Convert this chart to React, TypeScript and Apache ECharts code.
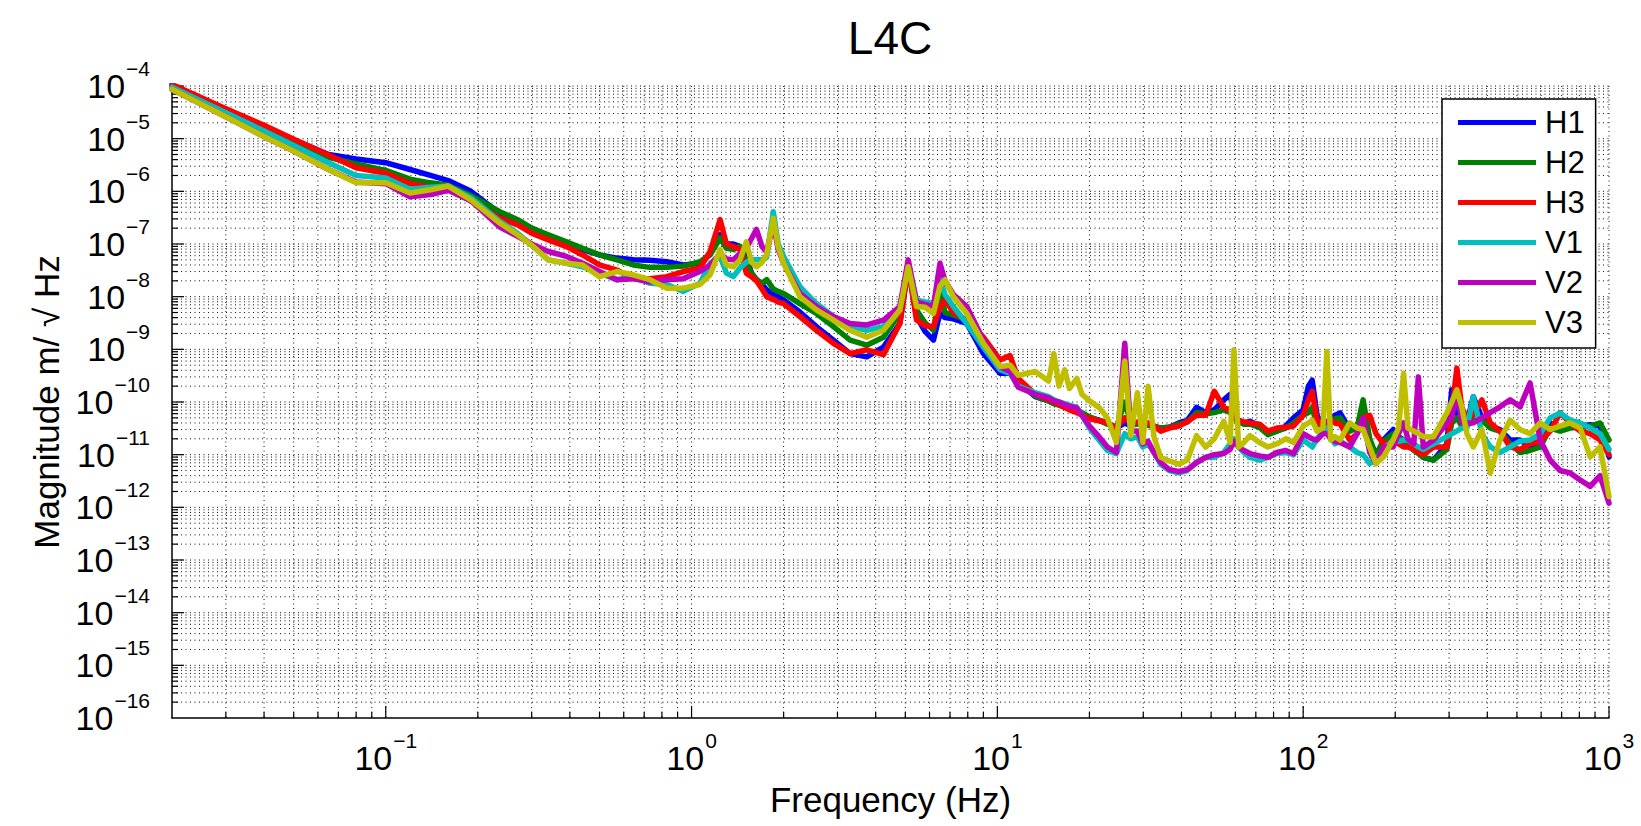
import React, { useEffect, useRef } from 'react';
import * as echarts from 'echarts';

const FONT = '"Liberation Sans", Arial, Helvetica, sans-serif';

const SERIES_NAMES = ['H1', 'H2', 'H3', 'V1', 'V2', 'V3'];
const SERIES_COLORS = ['#0000FF', '#008000', '#FF0000', '#00BFBF', '#BF00BF', '#BFBF00'];

const X_MIN = 0.02;
const X_MAX = 1000;
const Y_MIN = 1e-16;
const Y_MAX = 1e-4;

// Frequency grid (Hz) shared by all series
const FREQ = [
  0.02, 0.03, 0.04, 0.05, 0.065, 0.08, 0.1, 0.12, 0.14, 0.16, 0.19, 0.236,
  0.27, 0.3, 0.34, 0.39, 0.44, 0.5, 0.57, 0.645, 0.73, 0.83, 0.94, 1.065,
  1.15, 1.24, 1.3, 1.37, 1.44, 1.51, 1.57, 1.63, 1.7, 1.76, 1.85, 1.92, 2.0,
  2.26, 2.56, 2.91, 3.3, 3.74, 4.24, 4.8, 5.11, 5.44, 5.8, 6.18, 6.49, 6.74, 7.18, 7.94, 9.0, 10.2,
  11.0, 11.7, 13.3, 14.7, 15.3, 15.9, 16.6, 17.2, 18.2, 18.9, 20.0, 21.5, 22.9, 24.5, 26.1, 27.3, 28.7, 29.9, 31.1, 32.5, 34.2, 36.5, 39.2, 41.8, 44.8, 48, 51.2, 55, 57.7, 59.4, 61.5, 64, 67, 72, 76.7, 82, 87.7, 93,
  100, 104, 107, 111, 116, 119.5, 123, 127, 132, 142, 150, 157, 165, 173, 183, 197, 205, 213, 220, 230, 238, 247, 267, 295, 306, 318, 330, 343, 360, 384, 409, 440, 475, 512, 552, 596, 642, 692, 746, 805, 868, 935, 1000,
];

const H1 = [
  1.05e-4, 3.6e-5, 1.7e-5, 9.5e-6, 5.0e-6, 4.1e-6, 3.5e-6, 2.6e-6, 2.0e-6, 1.6e-6, 1.0e-6, 3.8e-7,
  2.7e-7, 2.0e-7, 1.4e-7, 9.5e-8, 7.8e-8, 6.2e-8, 5.4e-8, 5.0e-8, 4.9e-8, 4.6e-8, 4.0e-8, 4.3e-8,
  6.6e-8, 1.5e-7, 1.0e-7, 1.0e-7, 8.9e-8, 5.8e-8, 2.8e-8, 2.1e-8, 1.7e-8, 1.35e-8, 1.1e-8, 1.0e-8, 8.7e-9,
  5.1e-9, 2.7e-9, 1.5e-9, 8.3e-10, 7.2e-10, 1.1e-9, 3.1e-9, 3.7e-8, 4.2e-9, 2.2e-9, 1.5e-9, 4.8e-9, 4.0e-9, 3.8e-9, 3.1e-9, 8.3e-10, 3.5e-10,
  3.5e-10, 2.4e-10, 1.26e-10, 1.05e-10, 9.3e-11, 8.9e-11, 7.9e-11, 7.6e-11, 6.8e-11, 6.0e-11, 5.0e-11, 4.5e-11, 4.0e-11, 3.2e-11, 4.0e-11, 3.5e-11, 4.0e-11, 4.2e-11, 3.8e-11, 3.5e-11, 3.2e-11, 3.3e-11, 4.0e-11, 4.5e-11, 7.9e-11, 6.3e-11, 7.1e-11, 1.1e-10, 1.4e-10, 5.6e-11, 4.5e-11, 4.0e-11, 4.3e-11, 3.5e-11, 2.5e-11, 2.8e-11, 3.5e-11, 5.0e-11,
  7.1e-11, 2.0e-10, 2.6e-10, 5.6e-11, 3.5e-11, 4.0e-11, 5.0e-11, 5.6e-11, 6.2e-11, 3.0e-11, 3.5e-11, 7.1e-11, 1.8e-11, 9.1e-12, 1.9e-11, 3.0e-11, 2.2e-11, 1.9e-11, 1.6e-11, 1.26e-11, 1.1e-11, 8.9e-12, 7.9e-12, 1.6e-11, 1.7e-10, 6.3e-11, 4.0e-11, 4.0e-11, 1.26e-10, 5.0e-11, 3.5e-11, 3.0e-11, 1.9e-11, 1.9e-11, 1.4e-11, 1.4e-11, 4.0e-11, 3.0e-11, 3.5e-11, 3.5e-11, 3.7e-11, 3.5e-11, 9.1e-12,
];

const H2 = [
  1.0e-4, 3.4e-5, 1.6e-5, 8.7e-6, 4.4e-6, 3.3e-6, 2.5e-6, 1.7e-6, 1.45e-6, 1.3e-6, 8.3e-7, 4.1e-7,
  2.9e-7, 2.0e-7, 1.5e-7, 1.1e-7, 8.3e-8, 6.2e-8, 5.0e-8, 4.0e-8, 3.6e-8, 3.6e-8, 3.8e-8, 4.6e-8,
  6.2e-8, 1.3e-7, 8.3e-8, 7.9e-8, 8.9e-8, 4.3e-8, 2.8e-8, 2.1e-8, 1.8e-8, 2.1e-8, 1.4e-8, 1.26e-8, 1.15e-8,
  7.4e-9, 4.8e-9, 2.7e-9, 1.5e-9, 1.2e-9, 1.7e-9, 4.8e-9, 4.3e-8, 5.6e-9, 3.2e-9, 2.3e-9, 1.35e-8, 5.0e-9, 4.5e-9, 3.6e-9, 1.1e-9, 4.7e-10,
  4.0e-10, 2.5e-10, 1.3e-10, 1.05e-10, 9.3e-11, 8.7e-11, 8.3e-11, 7.6e-11, 7.1e-11, 6.3e-11, 5.2e-11, 4.5e-11, 3.8e-11, 3.3e-11, 1.0e-10, 4.0e-11, 3.8e-11, 4.0e-11, 3.6e-11, 3.4e-11, 3.2e-11, 3.3e-11, 3.8e-11, 4.2e-11, 6.3e-11, 6.0e-11, 6.3e-11, 7.1e-11, 6.3e-11, 5.0e-11, 4.2e-11, 3.8e-11, 3.8e-11, 3.3e-11, 2.4e-11, 2.8e-11, 3.2e-11, 4.0e-11,
  5.6e-11, 6.3e-11, 7.9e-11, 3.5e-11, 3.2e-11, 3.5e-11, 4.5e-11, 4.8e-11, 5.0e-11, 2.8e-11, 3.2e-11, 1.1e-10, 2.0e-11, 1.0e-11, 1.8e-11, 2.5e-11, 2.1e-11, 1.9e-11, 1.6e-11, 1.2e-11, 1.05e-11, 8.9e-12, 7.9e-12, 1.26e-11, 4.0e-11, 5.0e-11, 3.5e-11, 3.5e-11, 4.5e-11, 4.5e-11, 3.2e-11, 2.8e-11, 1.6e-11, 1.1e-11, 1.2e-11, 1.4e-11, 3.2e-11, 2.8e-11, 3.2e-11, 3.3e-11, 3.5e-11, 4.0e-11, 1.9e-11,
];

const H3 = [
  1.07e-4, 3.7e-5, 1.8e-5, 9.8e-6, 4.9e-6, 2.8e-6, 2.2e-6, 1.4e-6, 1.2e-6, 1.1e-6, 6.6e-7, 3.1e-7,
  2.3e-7, 1.6e-7, 1.2e-7, 8.9e-8, 6.2e-8, 4.0e-8, 3.2e-8, 2.2e-8, 2.2e-8, 2.4e-8, 3.0e-8, 3.5e-8,
  7.2e-8, 2.9e-7, 1.0e-7, 8.9e-8, 7.9e-8, 2.8e-8, 2.4e-8, 2.0e-8, 1.4e-8, 1.0e-8, 8.9e-9, 7.9e-9, 7.4e-9,
  4.2e-9, 2.3e-9, 1.3e-9, 8.3e-10, 9.8e-10, 7.9e-10, 3.1e-9, 3.7e-8, 3.6e-9, 2.8e-9, 2.7e-9, 6.3e-9, 8.7e-9, 5.0e-9, 3.6e-9, 1.7e-9, 6.3e-10,
  7.6e-10, 2.8e-10, 1.4e-10, 1.1e-10, 1.0e-10, 8.9e-11, 7.9e-11, 7.1e-11, 6.3e-11, 5.6e-11, 4.8e-11, 4.4e-11, 4.0e-11, 3.2e-11, 5.0e-11, 4.0e-11, 4.2e-11, 4.4e-11, 4.0e-11, 3.5e-11, 2.8e-11, 3.2e-11, 3.5e-11, 4.2e-11, 5.6e-11, 5.6e-11, 1.6e-10, 7.9e-11, 7.1e-11, 5.2e-11, 4.5e-11, 4.2e-11, 4.0e-11, 3.8e-11, 2.8e-11, 3.2e-11, 3.3e-11, 3.5e-11,
  5.6e-11, 1.1e-10, 1.6e-10, 4.5e-11, 3.5e-11, 4.0e-11, 4.5e-11, 4.0e-11, 3.8e-11, 1.9e-11, 2.5e-11, 5.0e-11, 5.6e-11, 2.5e-11, 1.6e-11, 1.8e-11, 1.6e-11, 1.4e-11, 1.4e-11, 1.26e-11, 1.1e-11, 1.0e-11, 1.4e-11, 1.4e-11, 6.3e-11, 4.4e-10, 7.9e-11, 5.0e-11, 5.6e-11, 1.1e-10, 4.0e-11, 2.8e-11, 1.4e-11, 1.26e-11, 1.6e-11, 1.8e-11, 2.8e-11, 6.2e-11, 4.0e-11, 2.8e-11, 2.5e-11, 1.9e-11, 1.0e-11,
];

const V1 = [
  9.5e-5, 3.1e-5, 1.4e-5, 7.4e-6, 3.5e-6, 2.0e-6, 1.8e-6, 1.1e-6, 1.2e-6, 1.26e-6, 7.6e-7, 2.7e-7,
  1.6e-7, 9.5e-8, 5.0e-8, 4.3e-8, 3.7e-8, 2.8e-8, 2.1e-8, 2.4e-8, 1.8e-8, 1.7e-8, 1.26e-8, 1.8e-8,
  4.3e-8, 5.8e-8, 2.8e-8, 2.4e-8, 3.5e-8, 4.5e-8, 5.0e-8, 5.0e-8, 5.0e-8, 5.6e-8, 4.1e-7, 1.0e-7, 5.8e-8,
  1.55e-8, 7.4e-9, 4.2e-9, 2.7e-9, 2.3e-9, 2.7e-9, 6.5e-9, 4.3e-8, 8.7e-9, 7.9e-9, 7.4e-9, 2.1e-8, 1.1e-8, 6.5e-9, 3.1e-9, 1.1e-9, 4.1e-10,
  3.5e-10, 2.0e-10, 1.5e-10, 1.26e-10, 1.1e-10, 1.0e-10, 9.3e-11, 8.7e-11, 7.9e-11, 5.6e-11, 3.2e-11, 1.9e-11, 1.2e-11, 1.05e-11, 2.5e-11, 2.0e-11, 2.2e-11, 1.4e-11, 1.6e-11, 1.1e-11, 6.6e-12, 5.0e-12, 4.5e-12, 5.0e-12, 7.1e-12, 8.9e-12, 8.9e-12, 1.1e-11, 1.6e-11, 2.0e-11, 1.4e-11, 1.1e-11, 8.9e-12, 7.9e-12, 8.9e-12, 1.05e-11, 1.1e-11, 1.0e-11,
  1.9e-11, 1.6e-11, 1.4e-11, 2.0e-11, 2.8e-11, 3.2e-11, 2.2e-11, 1.6e-11, 1.8e-11, 1.4e-11, 1.1e-11, 1.0e-11, 6.8e-12, 7.9e-12, 1.26e-11, 1.9e-11, 1.8e-11, 1.9e-11, 1.9e-11, 1.6e-11, 1.4e-11, 1.26e-11, 1.6e-11, 2.2e-11, 2.5e-11, 2.8e-11, 3.2e-11, 3.2e-11, 1.26e-10, 2.5e-11, 1.4e-11, 1.1e-11, 1.4e-11, 1.8e-11, 1.9e-11, 2.5e-11, 5.0e-11, 6.2e-11, 4.5e-11, 4.0e-11, 3.2e-11, 2.5e-11, 1.26e-11,
];

const V2 = [
  8.7e-5, 2.6e-5, 1.1e-5, 5.8e-6, 2.6e-6, 1.5e-6, 1.4e-6, 7.9e-7, 8.7e-7, 1.05e-6, 6.6e-7, 2.1e-7,
  1.4e-7, 1.0e-7, 7.2e-8, 5.8e-8, 4.3e-8, 3.0e-8, 2.1e-8, 2.2e-8, 1.9e-8, 2.1e-8, 2.2e-8, 3.0e-8,
  4.0e-8, 6.6e-8, 5.2e-8, 5.0e-8, 6.6e-8, 8.3e-8, 1.26e-7, 1.9e-7, 8.9e-8, 7.1e-8, 2.4e-7, 7.9e-8, 4.3e-8,
  1.15e-8, 6.5e-9, 4.2e-9, 3.1e-9, 2.9e-9, 3.6e-9, 6.5e-9, 5.0e-8, 7.9e-9, 7.1e-9, 6.5e-9, 4.3e-8, 2.0e-8, 1.1e-8, 6.5e-9, 1.5e-9, 4.7e-10,
  3.8e-10, 1.9e-10, 1.4e-10, 1.2e-10, 1.05e-10, 1.0e-10, 8.9e-11, 8.3e-11, 7.6e-11, 5.6e-11, 3.5e-11, 2.2e-11, 1.4e-11, 1.1e-11, 1.3e-9, 2.8e-11, 2.8e-11, 1.6e-11, 1.8e-11, 1.1e-11, 7.1e-12, 5.2e-12, 4.8e-12, 5.2e-12, 7.1e-12, 8.9e-12, 1.0e-11, 1.05e-11, 1.26e-11, 1.8e-11, 1.4e-11, 1.2e-11, 1.05e-11, 9.5e-12, 8.9e-12, 1.1e-11, 1.2e-11, 1.05e-11,
  2.5e-11, 2.2e-11, 2.0e-11, 1.9e-11, 2.5e-11, 2.5e-11, 2.0e-11, 1.8e-11, 1.7e-11, 1.4e-11, 2.5e-11, 5.0e-11, 1.1e-11, 6.8e-12, 1.4e-11, 1.4e-11, 2.5e-11, 4.0e-11, 2.0e-11, 1.6e-11, 3.0e-10, 1.4e-11, 1.9e-11, 4.0e-11, 5.0e-11, 1.7e-10, 4.0e-11, 4.0e-11, 4.0e-11, 5.0e-11, 6.3e-11, 8.1e-11, 1.1e-10, 8.1e-11, 2.3e-10, 1.9e-11, 7.9e-12, 5.0e-12, 4.5e-12, 3.3e-12, 2.5e-12, 4.0e-12, 1.2e-12,
];

const V3 = [
  8.7e-5, 2.6e-5, 1.1e-5, 5.8e-6, 2.6e-6, 1.45e-6, 1.45e-6, 9.3e-7, 1.07e-6, 1.26e-6, 6.9e-7, 2.5e-7,
  1.5e-7, 9.5e-8, 5.0e-8, 4.3e-8, 4.0e-8, 2.4e-8, 3.0e-8, 2.6e-8, 2.1e-8, 1.45e-8, 1.45e-8, 1.7e-8,
  2.6e-8, 7.8e-8, 4.0e-8, 3.7e-8, 5.0e-8, 1.1e-7, 4.5e-8, 3.7e-8, 4.5e-8, 6.3e-8, 3.1e-7, 8.9e-8, 4.3e-8,
  1.0e-8, 5.6e-9, 3.6e-9, 2.3e-9, 1.7e-9, 2.3e-9, 5.6e-9, 3.7e-8, 6.5e-9, 6.3e-9, 4.8e-9, 1.6e-8, 2.1e-8, 1.0e-8, 4.8e-9, 1.3e-9, 4.7e-10,
  5.0e-10, 3.2e-10, 3.8e-10, 2.5e-10, 8.3e-10, 2.0e-10, 4.1e-10, 1.8e-10, 2.8e-10, 1.4e-10, 1.05e-10, 7.9e-11, 5.0e-11, 1.7e-11, 6.0e-10, 2.3e-11, 1.5e-10, 1.7e-11, 2.0e-10, 2.2e-11, 8.9e-12, 7.6e-12, 6.6e-12, 7.9e-12, 2.3e-11, 1.4e-11, 2.0e-11, 4.3e-11, 1.7e-11, 9.8e-10, 1.4e-11, 1.7e-11, 2.3e-11, 1.7e-11, 1.4e-11, 1.6e-11, 2.0e-11, 1.7e-11,
  3.5e-11, 4.0e-11, 4.5e-11, 2.8e-11, 3.2e-11, 9.1e-10, 1.9e-11, 2.2e-11, 1.9e-11, 4.0e-11, 3.2e-11, 3.0e-11, 1.4e-11, 6.8e-12, 9.1e-12, 1.9e-11, 3.2e-11, 3.5e-10, 3.2e-11, 2.8e-11, 2.5e-11, 2.2e-11, 2.2e-11, 6.2e-11, 1.0e-10, 1.7e-10, 8.1e-11, 2.5e-11, 1.4e-11, 3.0e-11, 4.5e-12, 1.9e-11, 4.5e-11, 3.0e-11, 2.5e-11, 4.0e-11, 3.0e-11, 3.5e-11, 4.0e-11, 3.2e-11, 9.1e-12, 1.4e-11, 1.6e-12,
];

const SERIES_VALUES = [H1, H2, H3, V1, V2, V3];

// Grid/tick positions of the log axes: 1..9 x 10^n
const X_GRID: number[] = [];
for (let n = -2; n <= 2; n++) {
  for (let k = 1; k <= 9; k++) {
    const v = k * Math.pow(10, n);
    if (v > X_MIN * 1.0001 && v < X_MAX) X_GRID.push(v);
  }
}
X_GRID.push(X_MAX);

const Y_GRID: number[] = [];
for (let n = -16; n <= -5; n++) {
  for (let k = 1; k <= 9; k++) {
    const v = k * Math.pow(10, n);
    if (v > Y_MIN * 1.0001 && v < Y_MAX) Y_GRID.push(v);
  }
}
Y_GRID.push(Y_MAX);

const isMajor = (v: number) => {
  const lg = Math.log10(v);
  return Math.abs(lg - Math.round(lg)) < 1e-6;
};

const powLabel = (v: number) => {
  const lg = Math.log10(v);
  const e = Math.round(lg);
  if (Math.abs(lg - e) > 1e-6) return '';
  const es = e < 0 ? '\u2212' + String(-e) : String(e);
  return '{b|10}{s|' + es + '}';
};

// base "10" sits at the bottom of a 45px line, exponent at its top
const LABEL_RICH = {
  b: { fontSize: 34, lineHeight: 45, fontFamily: FONT, color: '#000', verticalAlign: 'bottom' },
  s: { fontSize: 21, lineHeight: 21, fontFamily: FONT, color: '#000', verticalAlign: 'top', padding: [0, 0, 0, 1] },
};

const GRID_STYLE = { stroke: '#111', lineWidth: 1, lineDash: [1, 3.5] };
const TICK_STYLE = { stroke: '#000', lineWidth: 1.2 };

function buildOption() {
  const lineSeries = SERIES_NAMES.map((name, i) => ({
    name,
    type: 'line',
    data: FREQ.map((f, j) => [f, SERIES_VALUES[i][j]]),
    showSymbol: false,
    symbol: 'none',
    clip: true,
    z: 3,
    color: SERIES_COLORS[i],
    lineStyle: { color: SERIES_COLORS[i], width: 5.5, join: 'round', cap: 'round' },
    emphasis: { disabled: true },
  }));

  const xGridSeries = {
    type: 'custom',
    name: '__xgrid',
    silent: true,
    z: 1,
    clip: false,
    data: X_GRID.map((v) => [v, Y_MIN]),
    renderItem: (params: any, api: any) => {
      const v = api.value(0);
      const cs = params.coordSys;
      const x = api.coord([v, Y_MIN])[0];
      const top = cs.y;
      const bot = cs.y + cs.height;
      return {
        type: 'group',
        children: [
          { type: 'line', shape: { x1: x, y1: top, x2: x, y2: bot }, style: GRID_STYLE },
          { type: 'line', shape: { x1: x, y1: bot, x2: x, y2: bot - (isMajor(v) ? 12 : 6) }, style: TICK_STYLE },
        ],
      };
    },
  };

  const yGridSeries = {
    type: 'custom',
    name: '__ygrid',
    silent: true,
    z: 1,
    clip: false,
    data: Y_GRID.map((v) => [X_MIN, v]),
    renderItem: (params: any, api: any) => {
      const v = api.value(1);
      const cs = params.coordSys;
      const y = api.coord([X_MIN, v])[1];
      const left = cs.x;
      const right = cs.x + cs.width;
      return {
        type: 'group',
        children: [
          { type: 'line', shape: { x1: left, y1: y, x2: right, y2: y }, style: GRID_STYLE },
          { type: 'line', shape: { x1: left, y1: y, x2: left + (isMajor(v) ? 12 : 6), y2: y }, style: TICK_STYLE },
        ],
      };
    },
  };

  return {
    animation: false,
    backgroundColor: '#fff',
    textStyle: { fontFamily: FONT },
    grid: { left: 172, top: 86, right: 32, bottom: 108, containLabel: false, outerBoundsMode: 'none' },
    graphic: [
      {
        type: 'text',
        x: 890,
        y: 38,
        style: {
          text: 'L4C',
          font: '46px ' + FONT,
          fontSize: 46,
          fontFamily: FONT,
          fill: '#000',
          textAlign: 'center',
          textVerticalAlign: 'middle',
          align: 'center',
          verticalAlign: 'middle',
        },
      },
    ],
    legend: {
      orient: 'vertical',
      left: 1442,
      top: 99,
      icon: 'rect',
      itemWidth: 78,
      itemHeight: 5,
      itemGap: 9,
      padding: [8, 11, 10, 16],
      borderColor: '#000',
      borderWidth: 1.5,
      borderRadius: 0,
      backgroundColor: '#fff',
      selectedMode: false,
      data: SERIES_NAMES,
      textStyle: { fontSize: 31, lineHeight: 30, color: '#000', fontFamily: FONT, padding: [0, 0, 0, 4] },
    },
    xAxis: {
      type: 'log',
      logBase: 10,
      min: X_MIN,
      max: X_MAX,
      splitNumber: 5,
      axisLine: { show: true, lineStyle: { color: '#000', width: 1.5 } },
      axisTick: { show: false },
      splitLine: { show: false },
      minorTick: { show: false },
      minorSplitLine: { show: false },
      axisLabel: {
        margin: 12,
        formatter: powLabel,
        rich: LABEL_RICH,
        color: '#000',
        fontSize: 34,
        fontFamily: FONT,
        hideOverlap: false,
        showMaxLabel: true,
      },
      name: 'Frequency (Hz)',
      nameLocation: 'middle',
      nameGap: 64,
      nameTextStyle: { fontSize: 35, color: '#000', fontFamily: FONT },
    },
    yAxis: {
      type: 'log',
      logBase: 10,
      min: Y_MIN,
      max: Y_MAX,
      interval: 1,
      splitNumber: 12,
      axisLine: { show: true, lineStyle: { color: '#000', width: 1.5 } },
      axisTick: { show: false },
      splitLine: { show: false },
      minorTick: { show: false },
      minorSplitLine: { show: false },
      axisLabel: {
        margin: 22,
        formatter: powLabel,
        rich: LABEL_RICH,
        color: '#000',
        fontSize: 34,
        fontFamily: FONT,
        padding: [0, 0, 11, 0],
        hideOverlap: false,
        showMinLabel: true,
        showMaxLabel: true,
      },
      name: 'Magnitude m/ \u221A Hz',
      nameLocation: 'middle',
      nameRotate: 90,
      nameGap: 108,
      nameTextStyle: { fontSize: 35, color: '#000', fontFamily: FONT },
    },
    series: [xGridSeries, yGridSeries, ...lineSeries],
  };
}

export default function App() {
  const ref = useRef<HTMLDivElement>(null);
  useEffect(() => {
    if (!ref.current) return;
    const chart = echarts.init(ref.current, null, { renderer: 'svg' });
    chart.setOption(buildOption() as any);
    return () => {
      chart.dispose();
    };
  }, []);
  return (
    <div
      ref={ref}
      style={{ position: 'absolute', left: 0, top: 0, width: 1641, height: 826, background: '#fff' }}
    />
  );
}
